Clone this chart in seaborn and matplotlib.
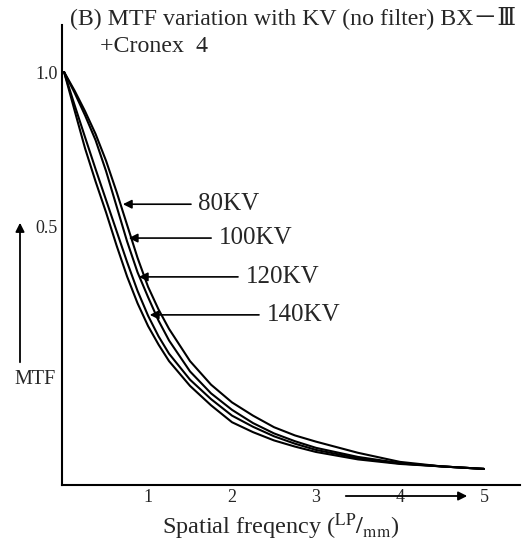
import pandas as pd
import matplotlib
matplotlib.use('Agg')
import matplotlib.pyplot as plt
import seaborn as sns

# 读取的曲线数据 (MTF vs spatial frequency)
freq = [0, 0.125, 0.25, 0.375, 0.5, 0.625, 0.75, 0.875, 1.0, 1.125, 1.25, 1.5, 1.75, 2.0,
        2.25, 2.5, 2.75, 3.0, 3.5, 4.0, 4.5, 5.0]
mtf_80 = [1.0, 0.955, 0.905, 0.85, 0.785, 0.71, 0.63, 0.55, 0.48, 0.425, 0.378, 0.30, 0.243, 0.20,
          0.168, 0.14, 0.12, 0.105, 0.078, 0.056, 0.045, 0.039]
mtf_100 = [1.0, 0.95, 0.895, 0.835, 0.76, 0.675, 0.59, 0.515, 0.455, 0.398, 0.35, 0.275, 0.222, 0.182,
           0.15, 0.125, 0.106, 0.09, 0.068, 0.053, 0.045, 0.039]
mtf_120 = [1.0, 0.92, 0.842, 0.765, 0.69, 0.615, 0.54, 0.47, 0.41, 0.36, 0.318, 0.255, 0.208, 0.168,
           0.141, 0.118, 0.10, 0.085, 0.065, 0.052, 0.045, 0.039]
mtf_140 = [1.0, 0.907, 0.815, 0.735, 0.66, 0.58, 0.505, 0.44, 0.385, 0.34, 0.30, 0.24, 0.193, 0.152,
           0.128, 0.108, 0.093, 0.08, 0.062, 0.051, 0.045, 0.039]

kv_labels = ['80KV', '100KV', '120KV', '140KV']
# 箭头指向的位置 (x, y) 以及文字起点
arrow_tips = [(0.70, 0.680), (0.77, 0.598), (0.89, 0.504), (1.02, 0.412)]
text_x = [1.60, 1.84, 2.16, 2.41]

x_ticks = [1, 2, 3, 4, 5]
y_tick_pos = [1.0, 0.627]
y_tick_labels = ['1.0', '0.5']

rows = []
for kv, vals in zip(kv_labels, [mtf_80, mtf_100, mtf_120, mtf_140]):
    for f, m in zip(freq, vals):
        rows.append({'freq': f, 'mtf': m, 'kv': kv})
df = pd.DataFrame(rows)

sns.set_style('white')
plt.rcParams['font.family'] = ['Liberation Serif', 'DejaVu Serif', 'Noto Sans CJK JP']
plt.rcParams['mathtext.fontset'] = 'stix'

fig = plt.figure(figsize=(5.28, 5.48), dpi=100)
ax = fig.add_axes([62 / 528, 63 / 548, 458 / 528, 460 / 548])

sns.lineplot(data=df, x='freq', y='mtf', hue='kv', palette=['black'] * 4,
             legend=False, linewidth=1.5, ax=ax)

ax.set_xlim(-0.025, 5.43)
ax.set_ylim(0, 1.114)
for s in ['top', 'right']:
    ax.spines[s].set_visible(False)
for s in ['left', 'bottom']:
    ax.spines[s].set_linewidth(1.5)
    ax.spines[s].set_color('black')

ax.set_xticks(x_ticks)
ax.set_xticklabels([str(t) for t in x_ticks], fontsize=13)
ax.set_yticks(y_tick_pos)
ax.set_yticklabels(y_tick_labels, fontsize=13)
ax.set_yticks([0.504], minor=True)
ax.tick_params(axis='both', which='both', direction='in', length=5, width=1.2, color='black', pad=3)
ax.set_xlabel('')
ax.set_ylabel('')

# KV 标注
for lab, tip, tx in zip(kv_labels, arrow_tips, text_x):
    ax.annotate(lab, xy=tip, xytext=(tx, tip[1]), fontsize=18, va='center', ha='left',
                arrowprops=dict(arrowstyle='-|>', color='black', lw=1.2,
                                shrinkA=3, shrinkB=0, mutation_scale=13))

# 标题
fig.text(70 / 528, 1 - 18 / 548, '(B) MTF variation with KV (no filter) BX－Ⅲ',
         fontsize=17.2, ha='left', va='center')
fig.text(100 / 528, 1 - 47 / 548, '+Cronex  4', fontsize=17.2, ha='left', va='center')

# MTF 纵轴说明
fig.text(35 / 528, 1 - 380 / 548, 'MTF', fontsize=14.5, ha='center', va='center')
fig.add_artist(matplotlib.patches.FancyArrowPatch((20 / 528, 1 - 365 / 548), (20 / 528, 1 - 220 / 548),
                                                  transform=fig.transFigure, arrowstyle='-|>',
                                                  mutation_scale=13, color='black', lw=1.3))

# 横轴说明
fig.text(281 / 528, 1 - 527 / 548, r'Spatial freqency ($^{\rm LP}/_{\rm mm}$)',
         fontsize=17.5, ha='center', va='center')
fig.add_artist(matplotlib.patches.FancyArrowPatch((343 / 528, 1 - 496 / 548), (470 / 528, 1 - 496 / 548),
                                                  transform=fig.transFigure, arrowstyle='-|>',
                                                  mutation_scale=13, color='black', lw=1.3))

fig.savefig('out.png', dpi=100)
